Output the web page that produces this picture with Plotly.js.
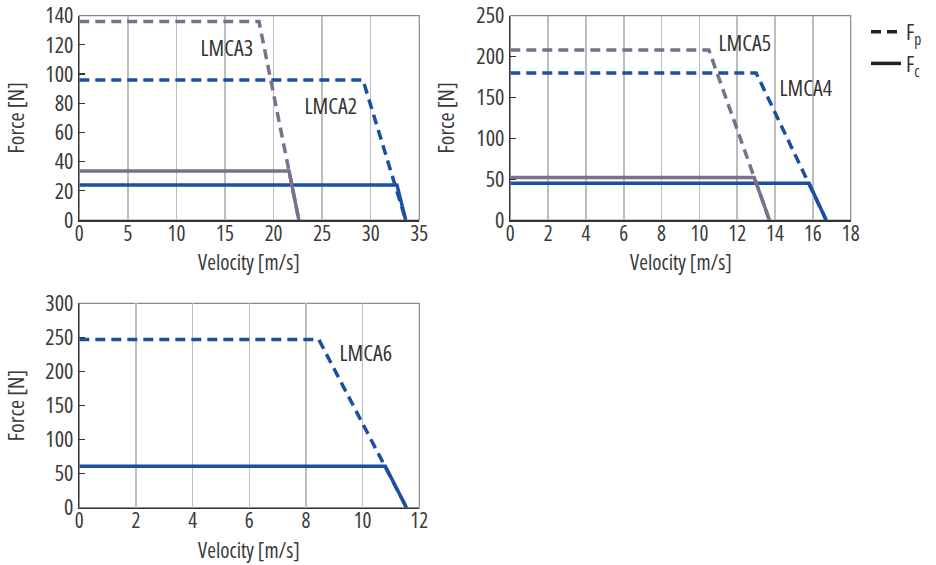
<!DOCTYPE html>
<html>
<head>
<meta charset="utf-8">
<script src="https://cdn.plot.ly/plotly-3.0.1.min.js"></script>
<style>
html,body{margin:0;padding:0;background:#fff}
#chart{width:936px;height:565px}
#chart text{font-stretch:75% !important}
</style>
</head>
<body>
<div id="chart"></div>
<script>
// ---- data ----
const lmca2FpX = [0, 29.2, 33.6];
const lmca2FpY = [96, 96, 0];
const lmca2FcX = [0, 32.7, 33.6];
const lmca2FcY = [24, 24, 0];
const lmca3FpX = [0, 18.5, 22.6];
const lmca3FpY = [136, 136, 0];
const lmca3FcX = [0, 21.6, 22.6];
const lmca3FcY = [33.5, 33.5, 0];

const lmca4FpX = [0, 13.0, 16.7];
const lmca4FpY = [180, 180, 0];
const lmca4FcX = [0, 15.8, 16.7];
const lmca4FcY = [45, 45, 0];
const lmca5FpX = [0, 10.5, 13.7];
const lmca5FpY = [208, 208, 0];
const lmca5FcX = [0, 12.9, 13.7];
const lmca5FcY = [52, 52, 0];

const lmca6FpX = [0, 8.45, 11.55];
const lmca6FpY = [247, 247, 0];
const lmca6FcX = [0, 10.8, 11.55];
const lmca6FcY = [61, 61, 0];

const modelLabels = ["LMCA3", "LMCA2", "LMCA5", "LMCA4", "LMCA6"];
const legendLabels = ["F<sub>p</sub>", "F<sub>c</sub>"];
const xTitle = "Velocity [m/s]";
const yTitle = "Force [N]";

// ---- styling ----
const BLUE = "#1b4fa2";
const GRAY = "#77718b";
const FONT = "Open Sans";
const FS = 22;
const FS_AX = 21;
const DASH = "10px,6px";
const LW = 3.5;

function tr(x, y, color, dashed, xa, ya) {
  return {x: x, y: y, type: "scatter", mode: "lines", xaxis: xa, yaxis: ya,
    line: {color: color, width: LW, dash: dashed ? DASH : "solid"},
    showlegend: false, hoverinfo: "skip"};
}

const data = [
  tr(lmca2FcX, lmca2FcY, BLUE, false, "x", "y"),
  tr(lmca2FpX, lmca2FpY, BLUE, true, "x", "y"),
  tr(lmca3FcX, lmca3FcY, GRAY, false, "x", "y"),
  tr(lmca3FpX, lmca3FpY, GRAY, true, "x", "y"),
  tr(lmca4FcX, lmca4FcY, BLUE, false, "x2", "y2"),
  tr(lmca4FpX, lmca4FpY, BLUE, true, "x2", "y2"),
  tr(lmca5FcX, lmca5FcY, GRAY, false, "x2", "y2"),
  tr(lmca5FpX, lmca5FpY, GRAY, true, "x2", "y2"),
  tr(lmca6FcX, lmca6FcY, BLUE, false, "x3", "y3"),
  tr(lmca6FpX, lmca6FpY, BLUE, true, "x3", "y3"),
  {x: [null], y: [null], type: "scatter", mode: "lines", name: legendLabels[0],
   line: {color: "#222", width: LW, dash: DASH}, xaxis: "x", yaxis: "y"},
  {x: [null], y: [null], type: "scatter", mode: "lines", name: legendLabels[1],
   line: {color: "#222", width: LW}, xaxis: "x", yaxis: "y"}
];

const W = 936, H = 565;
const xTickFont = {family: FONT, size: FS_AX, color: "#3a3a3a"};
const yTickFont = {family: FONT, size: FS, color: "#3a3a3a"};
function xax(px0, px1, range, dtick, anchor) {
  return {domain: [px0 / W, px1 / W], range: range, dtick: dtick, anchor: anchor,
    showgrid: true, gridcolor: "#bdbdbd", gridwidth: 1.5, zeroline: false,
    showline: true, linecolor: "#333", linewidth: 1.5, ticks: "", tickfont: xTickFont,
    ticklabeloverflow: "allow", ticklabelstandoff: -6, fixedrange: true};
}
function yax(py0, py1, range, dtick, anchor) {
  return {domain: [1 - py1 / H, 1 - py0 / H], range: range, dtick: dtick, anchor: anchor,
    showgrid: false, zeroline: false, showline: true, linecolor: "#333", linewidth: 1.5,
    ticks: "inside", ticklen: 6, tickcolor: "#333", tickwidth: 1.2, tickfont: yTickFont,
    ticklabeloverflow: "allow",
    title: {text: yTitle, font: yTickFont, standoff: 6}, fixedrange: true};
}

function box(xr, yr) {
  return {type: "rect", xref: xr + " domain", yref: yr + " domain", x0: 0, x1: 1, y0: 0, y1: 1,
    line: {color: "#8a8a8a", width: 1.2}, layer: "below"};
}

function ann(text, x, y, xr, yr) {
  return {text: text, x: x, y: y, xref: xr, yref: yr, showarrow: false,
    font: {family: FONT, size: FS, color: "#333"}};
}
function xTitleAnn(xr, yr) {
  return {text: xTitle, x: 0.5, y: 0, xref: xr + " domain", yref: yr + " domain",
    yshift: -42, showarrow: false, xanchor: "center", yanchor: "middle",
    font: {family: FONT, size: FS_AX, color: "#3a3a3a"}};
}

const layout = {
  width: W, height: H,
  margin: {l: 0, r: 0, t: 0, b: 0},
  paper_bgcolor: "#fff", plot_bgcolor: "#fff",
  font: {family: FONT, size: FS, color: "#333"},
  xaxis: xax(79.3, 419.3, [0, 35], 5, "y"),
  yaxis: yax(15.7, 220, [0, 140], 20, "x"),
  xaxis2: xax(510.3, 850.7, [0, 18], 2, "y2"),
  yaxis2: yax(15.7, 220, [0, 250], 50, "x2"),
  xaxis3: xax(79.3, 419.3, [0, 12], 2, "y3"),
  yaxis3: yax(303.3, 507.7, [0, 300], 50, "x3"),
  shapes: [box("x", "y"), box("x2", "y2"), box("x3", "y3")],
  annotations: [
    ann(modelLabels[0], 15.2, 118.5, "x", "y"),
    ann(modelLabels[1], 25.9, 78.8, "x", "y"),
    ann(modelLabels[2], 12.41, 217.8, "x2", "y2"),
    ann(modelLabels[3], 15.63, 162.7, "x2", "y2"),
    ann(modelLabels[4], 10.12, 228.5, "x3", "y3"),
    xTitleAnn("x", "y"), xTitleAnn("x2", "y2"), xTitleAnn("x3", "y3")
  ],
  legend: {x: 866 / W, y: 1 - 11 / H, xanchor: "left", yanchor: "top",
    bgcolor: "rgba(0,0,0,0)", font: {family: FONT, size: FS, color: "#333"},
    tracegroupgap: 0, itemwidth: 30},
  showlegend: true
};

Plotly.newPlot("chart", data, layout, {displayModeBar: false, staticPlot: true});
</script>
</body>
</html>
